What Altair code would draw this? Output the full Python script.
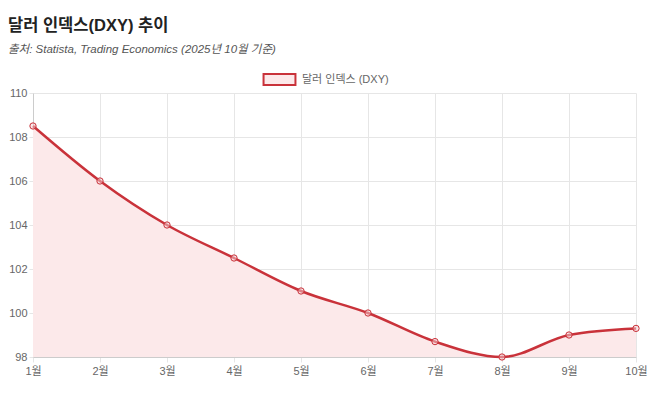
import altair as alt
import pandas as pd

months = ["1월", "2월", "3월", "4월", "5월", "6월", "7월", "8월", "9월", "10월"]
dxy = [108.5, 106.0, 104.0, 102.5, 101.0, 100.0, 98.7, 98.0, 99.0, 99.3]
series_name = "달러 인덱스 (DXY)"

df = pd.DataFrame({"month": months, "value": dxy, "series": [series_name] * len(months)})

LINE = "#c9323a"
FILL = "#fce9ea"
FONT = "Liberation Sans, Noto Sans CJK KR"

x = alt.X("month:N", sort=months, scale=alt.Scale(type="point", padding=0),
          axis=alt.Axis(title=None, labelAngle=0, labelColor="#666", labelFontSize=11,
                        labelFont=FONT, grid=True, gridColor="#e6e6e6", tickColor="#e6e6e6",
                        tickSize=5, domainColor="#cccccc", labelPadding=3))
y = alt.Y("value:Q", scale=alt.Scale(domain=[98, 110], nice=False, zero=False),
          axis=alt.Axis(title=None, values=[98, 100, 102, 104, 106, 108, 110],
                        labelColor="#666", labelFontSize=11, labelFont=FONT, grid=True,
                        gridColor="#e6e6e6", tickColor="#e6e6e6", tickSize=4,
                        domainColor="#cccccc", labelPadding=2))

color = alt.Color("series:N", scale=alt.Scale(domain=[series_name], range=[FILL]),
                  legend=alt.Legend(title=None, orient="none", legendX=240, legendY=-20,
                                    direction="horizontal",
                                    symbolType="M-2.9,-1H2.9V1H-2.9Z", symbolSize=121,
                                    symbolFillColor=FILL, symbolStrokeColor=LINE,
                                    symbolStrokeWidth=2, symbolOpacity=1,
                                    labelColor="#666", labelFontSize=11, labelFont=FONT,
                                    labelOffset=16))

area = alt.Chart(df).mark_area(interpolate="monotone", opacity=1).encode(
    x=x, y=alt.Y("value:Q", scale=alt.Scale(domain=[98, 110], nice=False, zero=False)),
    y2=alt.datum(98), color=color)
line = alt.Chart(df).mark_line(interpolate="monotone", color=LINE, strokeWidth=2.5).encode(
    x=x, y=y)
pts = alt.Chart(df).mark_point(shape="circle", filled=False, color=LINE, size=40,
                               strokeWidth=1, fill="#f6d0d3", fillOpacity=0.5).encode(x=x, y=y)

chart = alt.layer(area, line, pts).properties(
    width=603, height=264,
    autosize=alt.AutoSizeParams(type="none"),
    padding={"left": 25, "top": 85, "right": 14, "bottom": 31},
    title=alt.TitleParams(text="달러 인덱스(DXY) 추이",
                          subtitle="출처: Statista, Trading Economics (2025년 10월 기준)",
                          anchor="start", frame="group", dx=-25, offset=18,
                          font=FONT, fontSize=16.5, fontWeight="bold", color="#222",
                          subtitleFont=FONT, subtitleFontSize=11.5, subtitleFontStyle="italic",
                          subtitleColor="#555", subtitlePadding=9),
).configure_view(stroke=None)

chart.save("out.html", embed_options={"renderer": "svg", "actions": False})
